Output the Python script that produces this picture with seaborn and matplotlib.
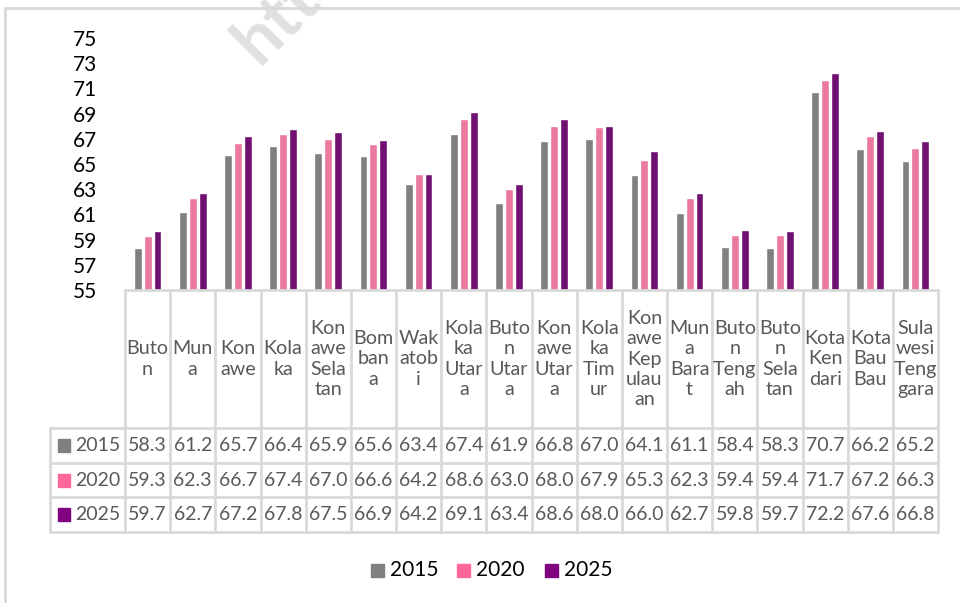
import pandas as pd
import seaborn as sns
import matplotlib.pyplot as plt
from matplotlib.transforms import blended_transform_factory
from matplotlib.patches import Rectangle

regions = ["Buton", "Muna", "Konawe", "Kolaka", "Konawe Selatan", "Bombana",
           "Wakatobi", "Kolaka Utara", "Buton Utara", "Konawe Utara", "Kolaka Timur",
           "Konawe Kepulauan", "Muna Barat", "Buton Tengah", "Buton Selatan",
           "Kota Kendari", "Kota Bau Bau", "Sulawesi Tenggara"]
header_labels = ["Buto\nn", "Mun\na", "Kon\nawe", "Kola\nka", "Kon\nawe\nSela\ntan",
                 "Bom\nban\na", "Wak\natob\ni", "Kola\nka\nUtar\na", "Buto\nn\nUtar\na",
                 "Kon\nawe\nUtar\na", "Kola\nka\nTim\nur", "Kon\nawe\nKep\nulau\nan",
                 "Mun\na\nBara\nt", "Buto\nn\nTeng\nah", "Buto\nn\nSela\ntan",
                 "Kota\nKen\ndari", "Kota\nBau\nBau", "Sula\nwesi\nTeng\ngara"]
years = ["2015", "2020", "2025"]
v2015 = [58.3, 61.2, 65.7, 66.4, 65.9, 65.6, 63.4, 67.4, 61.9, 66.8, 67.0, 64.1, 61.1, 58.4, 58.3, 70.7, 66.2, 65.2]
v2020 = [59.3, 62.3, 66.7, 67.4, 67.0, 66.6, 64.2, 68.6, 63.0, 68.0, 67.9, 65.3, 62.3, 59.4, 59.4, 71.7, 67.2, 66.3]
v2025 = [59.7, 62.7, 67.2, 67.8, 67.5, 66.9, 64.2, 69.1, 63.4, 68.6, 68.0, 66.0, 62.7, 59.8, 59.7, 72.2, 67.6, 66.8]
colors = ["#808080", "#FF6699", "#800080"]

series = [v2015, v2020, v2025]
df = pd.DataFrame({
    "region": regions * 3,
    "year": [y for y in years for _ in regions],
    "value": v2015 + v2020 + v2025,
})

sns.set_style("white")
plt.rcParams["font.family"] = ["Lato", "DejaVu Sans"]

W, H = 960, 603
fig = plt.figure(figsize=(9.6, 6.03), dpi=100)
ax = fig.add_axes([125 / W, 1 - 290 / H, (938 - 125) / W, (290 - 38) / H])

sns.barplot(data=df, x="region", y="value", hue="year", palette=colors,
            width=0.66, gap=0.2, ax=ax, legend=False)

ax.set_ylim(55, 75)
ax.set_xlim(-0.5, len(regions) - 0.5)
ax.set_yticks(range(55, 76, 2))
ax.tick_params(axis="y", length=0, labelsize=15, labelcolor="black", pad=20)
ax.set_xticks([])
ax.set_xlabel("")
ax.set_ylabel("")
for s in ax.spines.values():
    s.set_visible(False)

# table under the axis
def fy(py):
    return 1 - py / H

grid_c = "#d9d9d9"
tx = blended_transform_factory(ax.transData, fig.transFigure)
n = len(regions)
row_tops = [290, 428, 463, 497, 532]

# horizontal lines
fig.add_artist(plt.Line2D([-0.5, n - 0.5], [fy(290)] * 2, transform=tx, color=grid_c, lw=2))
for py in row_tops[1:]:
    fig.add_artist(plt.Line2D([50 / W, 938 / W], [fy(py)] * 2, transform=fig.transFigure,
                              color=grid_c, lw=2))
# vertical lines
for i in range(n + 1):
    fig.add_artist(plt.Line2D([i - 0.5] * 2, [fy(290), fy(532)], transform=tx,
                              color=grid_c, lw=2))
fig.add_artist(plt.Line2D([50 / W] * 2, [fy(428), fy(532)], transform=fig.transFigure,
                          color=grid_c, lw=2))

txt_c = "#595959"
for i, lab in enumerate(header_labels):
    fig.text(i, fy(359), lab, transform=tx, ha="center", va="center",
             fontsize=14.2, color=txt_c, linespacing=1.24)

for r, (yr, vals, c) in enumerate(zip(years, series, colors)):
    yc = fy((row_tops[r + 1] + row_tops[r + 2]) / 2)
    fig.add_artist(Rectangle((58 / W, yc - 6.5 / H), 12 / W, 13 / H,
                             transform=fig.transFigure, color=c))
    fig.text(75 / W, yc, yr, ha="left", va="center", fontsize=14, color=txt_c)
    for i, v in enumerate(vals):
        fig.text(i, yc, f"{v:.1f}", transform=tx, ha="center", va="center",
                 fontsize=14, color=txt_c)

# legend
lx = [371, 457, 545]
for x0, yr, c in zip(lx, years, colors):
    fig.add_artist(Rectangle((x0 / W, fy(577)), 13 / W, 13 / H,
                             transform=fig.transFigure, color=c))
    fig.text((x0 + 19) / W, fy(570), yr, ha="left", va="center", fontsize=15, color="black")

# chart frame
fig.add_artist(Rectangle((5 / W, -0.1), 1.2, fy(8) + 0.1, transform=fig.transFigure,
                         fill=False, edgecolor=grid_c, lw=2))

# faint watermark, cut by the top edge as in the source
fig.text(222 / W, fy(74), "htt", rotation=45, fontsize=50, fontweight="bold",
         color="#e0e0e0", ha="left", va="bottom", zorder=0)

fig.savefig("out.png", dpi=100)
